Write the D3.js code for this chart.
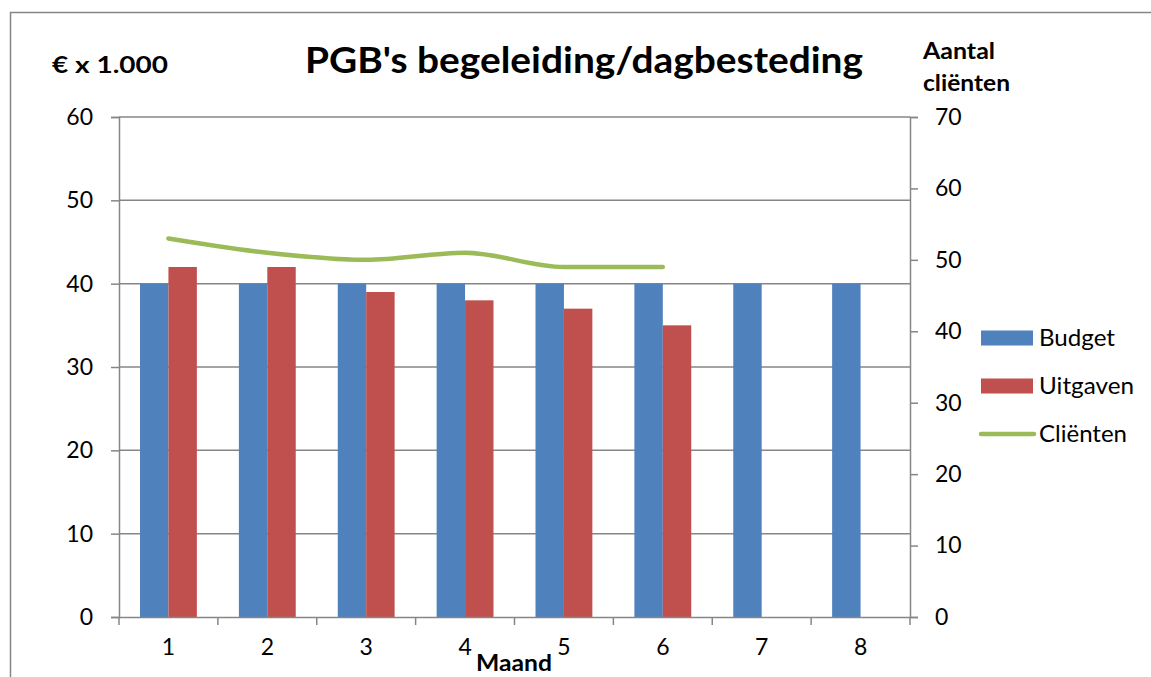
<!DOCTYPE html>
<html><head><meta charset="utf-8">
<script src="https://cdn.jsdelivr.net/npm/d3@7"></script>
<style>body{margin:0;background:#fff;}svg{display:block;font-family:Lato,"Open Sans",sans-serif;}</style>
</head><body>
<svg id="c" width="1151" height="677"></svg>
<script>
const months = [1,2,3,4,5,6,7,8];
const budget = [40,40,40,40,40,40,40,40];
const uitgaven = [42,42,39,38,37,35,null,null];
const clienten = [53,51,50,51,49,49];
const leftTicks = [0,10,20,30,40,50,60];
const rightTicks = [0,10,20,30,40,50,60,70];
const seriesNames = ["Budget","Uitgaven","Cliënten"];
const colors = {Budget:"#4f81bd", Uitgaven:"#c0504d", "Cliënten":"#9bbb59"};

const svg = d3.select("#c");
const L=119, R=910, T=117, B=617;
const axisColor="#868686";

// outer border
svg.append("path").attr("d","M10.5,677 V12.5 H1151").attr("fill","none").attr("stroke",axisColor).attr("stroke-width",1.5);

const x = d3.scaleBand().domain(months).range([L,R]).paddingInner(0).paddingOuter(0);
const yL = d3.scaleLinear().domain([0,60]).range([B,T]);
const yR = d3.scaleLinear().domain([0,70]).range([B,T]);

// gridlines
svg.append("g").selectAll("line").data(leftTicks.filter(d=>d>0)).join("line")
  .attr("x1",L).attr("x2",R).attr("y1",d=>yL(d)).attr("y2",d=>yL(d))
  .attr("stroke",axisColor).attr("stroke-width",1.5);

// bars
const inner = x.bandwidth()*0.2125;
const bw = (x.bandwidth()-2*inner)/2;
svg.append("g").selectAll("rect").data(months.map((m,i)=>({m,v:budget[i]}))).join("rect")
  .attr("x",d=>x(d.m)+inner).attr("width",bw)
  .attr("y",d=>yL(d.v)).attr("height",d=>B-yL(d.v)).attr("fill",colors.Budget);
svg.append("g").selectAll("rect").data(months.map((m,i)=>({m,v:uitgaven[i]})).filter(d=>d.v!=null)).join("rect")
  .attr("x",d=>x(d.m)+inner+bw).attr("width",bw)
  .attr("y",d=>yL(d.v)).attr("height",d=>B-yL(d.v)).attr("fill",colors.Uitgaven);

// line
const line = d3.line().x((d,i)=>x(months[i])+x.bandwidth()/2).y(d=>yR(d)).curve(d3.curveMonotoneX);
svg.append("path").attr("d",line(clienten)).attr("fill","none").attr("stroke",colors["Cliënten"])
  .attr("stroke-width",4.5).attr("stroke-linecap","round").attr("stroke-linejoin","round");

// axes
const fs = 23;
const axL = svg.append("g").attr("transform",`translate(${L},0)`)
  .call(d3.axisLeft(yL).tickValues(leftTicks).tickSize(8).tickPadding(18).tickFormat(d3.format("d")));
const axR = svg.append("g").attr("transform",`translate(${R},0)`)
  .call(d3.axisRight(yR).tickValues(rightTicks).tickSize(8).tickPadding(17).tickFormat(d3.format("d")));
const axB = svg.append("g").attr("transform",`translate(0,${B})`)
  .call(d3.axisBottom(x).tickSize(0).tickPadding(22));
// category boundary ticks
svg.append("g").selectAll("line").data(d3.range(9)).join("line")
  .attr("x1",i=>L+i*x.bandwidth()).attr("x2",i=>L+i*x.bandwidth())
  .attr("y1",B).attr("y2",B+8).attr("stroke",axisColor).attr("stroke-width",1.5);
[axL,axR,axB].forEach(a=>{
  a.selectAll("path.domain").attr("stroke",axisColor).attr("stroke-width",1.5);
  a.selectAll(".tick line").attr("stroke",axisColor).attr("stroke-width",1.5);
  a.selectAll("text").attr("font-size",fs).attr("font-family","Lato").attr("fill","#000");
});
axB.select("path.domain").attr("d",`M${L},0.5H${R}`);

// titles
svg.append("text").attr("x",305).attr("y",73).attr("font-size",36).attr("font-weight","bold")
  .attr("textLength",558).attr("lengthAdjust","spacingAndGlyphs").text("PGB's begeleiding/dagbesteding");
svg.append("text").attr("x",52).attr("y",73).attr("font-size",22).attr("font-weight","bold")
  .attr("textLength",116).attr("lengthAdjust","spacingAndGlyphs").text("€ x 1.000");
svg.append("text").attr("x",923).attr("y",59).attr("font-size",22).attr("font-weight","bold")
  .attr("textLength",72).attr("lengthAdjust","spacingAndGlyphs").text("Aantal");
svg.append("text").attr("x",923).attr("y",91).attr("font-size",22).attr("font-weight","bold")
  .attr("textLength",87).attr("lengthAdjust","spacingAndGlyphs").text("cliënten");
svg.append("text").attr("x",476).attr("y",671).attr("font-size",22).attr("font-weight","bold")
  .attr("textLength",76).attr("lengthAdjust","spacingAndGlyphs").text("Maand");

// legend
const lg = svg.append("g");
const ly = [338,386,434];
const lw = [76,95,88];
seriesNames.forEach((n,i)=>{
  if(i<2) lg.append("rect").attr("x",981).attr("y",ly[i]-7.5).attr("width",52).attr("height",15).attr("fill",colors[n]);
  else lg.append("line").attr("x1",981).attr("x2",1034).attr("y1",ly[i]).attr("y2",ly[i]).attr("stroke",colors[n]).attr("stroke-width",4.5).attr("stroke-linecap","round");
  lg.append("text").attr("x",1039).attr("y",ly[i]).attr("dy","0.35em").attr("font-size",23)
    .attr("textLength",lw[i]).attr("lengthAdjust","spacingAndGlyphs").text(n);
});
</script>
</body></html>
